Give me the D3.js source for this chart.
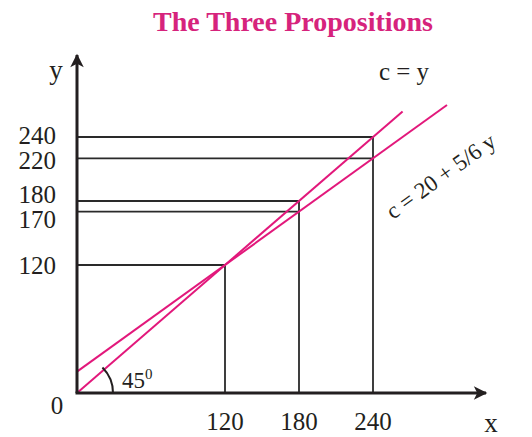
<!DOCTYPE html>
<html>
<head>
<meta charset="utf-8">
<script src="https://cdn.jsdelivr.net/npm/d3@7"></script>
<style>
  html, body { margin: 0; padding: 0; background: #ffffff; }
  svg { display: block; }
  text { font-family: "Liberation Serif", "DejaVu Serif", serif; fill: #231f20; }
</style>
</head>
<body>
<svg id="chart" width="532" height="437"></svg>
<script>
// Income levels marked on the x axis
const incomes = [120, 180, 240];
// Consumption at each income level for the two functions
const consumption45 = [120, 180, 240];       // c = y
const consumptionFn = [120, 170, 220];       // c = 20 + 5/6 y
// Tick labels on the y axis
const yTicks = [120, 170, 180, 220, 240];
// Consumption function parameters
const autonomous = [20];
const mpc = [5 / 6];
// Income range over which each function line is drawn
const lineRange45 = [0, 264];
const lineRangeFn = [0, 300];

const svg = d3.select("#chart");
const pink = "#e2187b";
const ink = "#231f20";

const x = d3.scaleLinear().domain([0, 240]).range([77, 373]);
const y = d3.scaleLinear().domain([0, 240]).range([393, 137]);

// Title
svg.append("text")
  .attr("x", 293).attr("y", 31)
  .attr("text-anchor", "middle")
  .style("font-size", "28px").style("font-weight", "bold")
  .style("fill", "#d6237c")
  .text("The Three Propositions");

// Guide lines: verticals up to c = y, horizontals to both consumption levels
const guides = svg.append("g").attr("stroke", "#2a2a2a").attr("stroke-width", 1.8).attr("fill", "none");
incomes.forEach((inc, i) => {
  guides.append("line")
    .attr("x1", x(inc)).attr("x2", x(inc))
    .attr("y1", y(0)).attr("y2", y(consumption45[i]));
  [consumption45[i], consumptionFn[i]].forEach(c => {
    guides.append("line")
      .attr("x1", x(0)).attr("x2", x(inc))
      .attr("y1", y(c)).attr("y2", y(c));
  });
});

// Consumption lines
const fn = v => autonomous[0] + mpc[0] * v;
const line = d3.line().x(d => x(d[0])).y(d => y(d[1]));
svg.append("path")
  .datum(lineRange45.map(v => [v, v]))
  .attr("d", line).attr("stroke", pink).attr("stroke-width", 2).attr("fill", "none");
svg.append("path")
  .datum(lineRangeFn.map(v => [v, fn(v)]))
  .attr("d", line).attr("stroke", pink).attr("stroke-width", 2).attr("fill", "none");

// Axes with arrowheads
const defs = svg.append("defs");
defs.append("marker")
  .attr("id", "arrow").attr("viewBox", "0 0 10 10")
  .attr("refX", 9).attr("refY", 5)
  .attr("markerWidth", 6.5).attr("markerHeight", 4.5)
  .attr("markerUnits", "strokeWidth")
  .attr("orient", "auto")
  .append("path").attr("d", "M0,0 L10,5 L0,10 L2.5,5 Z").attr("fill", ink);

svg.append("line")
  .attr("x1", x(0) - 1.5).attr("y1", y(0)).attr("x2", 486).attr("y2", y(0))
  .attr("stroke", ink).attr("stroke-width", 3).attr("marker-end", "url(#arrow)");
svg.append("line")
  .attr("x1", x(0)).attr("y1", y(0)).attr("x2", x(0)).attr("y2", 55)
  .attr("stroke", ink).attr("stroke-width", 3).attr("marker-end", "url(#arrow)");

// y tick labels, spread apart where neighbouring ticks sit too close
const labelGap = 25;
const placed = yTicks.map(d => ({ v: d, py: y(d) })).sort((a, b) => a.py - b.py);
for (let it = 0; it < 20; it++) {
  for (let k = 1; k < placed.length; k++) {
    const over = labelGap - (placed[k].py - placed[k - 1].py);
    if (over > 0) { placed[k - 1].py -= over / 2; placed[k].py += over / 2; }
  }
}
svg.append("g").selectAll("text")
  .data(placed).join("text")
  .attr("x", 56)
  .attr("y", d => d.py)
  .attr("dy", "0.35em")
  .attr("text-anchor", "end")
  .style("font-size", "25px")
  .text(d => d.v);

// x tick labels
svg.append("g").selectAll("text")
  .data(incomes).join("text")
  .attr("x", d => x(d)).attr("y", 430)
  .attr("text-anchor", "middle")
  .style("font-size", "25px")
  .text(d => d);

// Axis names and origin
svg.append("text").attr("x", 56).attr("y", 79).attr("text-anchor", "middle").style("font-size", "27px").text("y");
svg.append("text").attr("x", 491).attr("y", 432).attr("text-anchor", "middle").style("font-size", "27px").text("x");
svg.append("text").attr("x", 57).attr("y", 414).attr("text-anchor", "middle").style("font-size", "25px").text("0");

// 45 degree arc at the origin
const arc = d3.arc().innerRadius(36).outerRadius(36).startAngle(Math.PI / 4).endAngle(Math.PI / 2);
svg.append("path")
  .attr("d", arc())
  .attr("transform", `translate(${x(0)},${y(0)})`)
  .attr("stroke", ink).attr("stroke-width", 2).attr("fill", "none");
const deg = svg.append("text").attr("x", 122).attr("y", 388).style("font-size", "23px");
deg.append("tspan").text("45");
deg.append("tspan").attr("dy", -9).style("font-size", "15px").text("0");

// Line labels
svg.append("text").attr("x", 404).attr("y", 80).attr("text-anchor", "middle").style("font-size", "25px").text("c = y");
const ang = Math.atan2(y(fn(0)) - y(fn(240)), x(240) - x(0)) * 180 / Math.PI;
svg.append("text")
  .attr("transform", `translate(393,220) rotate(${-ang})`)
  .style("font-size", "23px")
  .text("c = 20 + 5/6 y");
</script>
</body>
</html>
